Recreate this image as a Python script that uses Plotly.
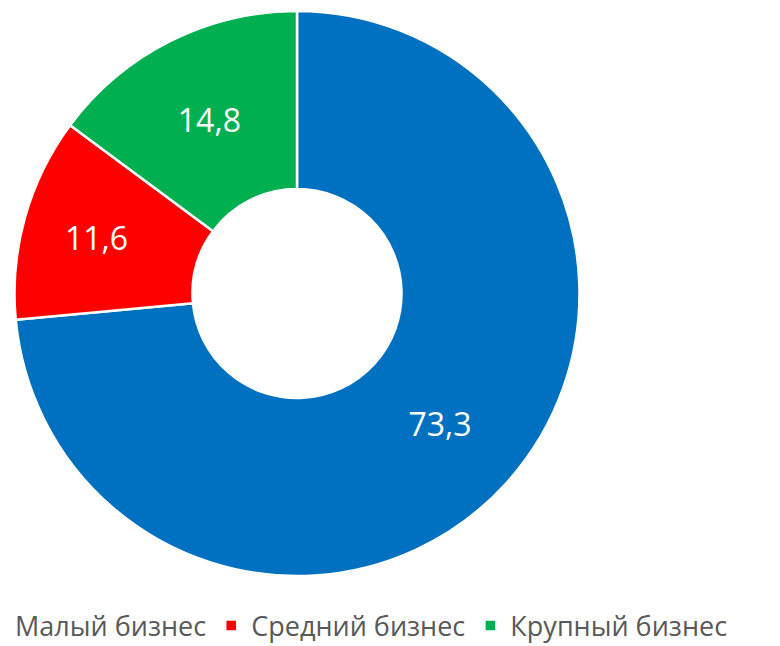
"""Donut chart of business size shares."""

import plotly.graph_objects as go

categories: list[str] = ["Малый бизнес", "Средний бизнес", "Крупный бизнес"]
shares: list[float] = [73.3, 11.6, 14.8]
slice_colors: list[str] = ["#0070C0", "#FF0000", "#00B050"]

FONT = "Open Sans"

# the page body adds an 8px margin, so the figure is 8px smaller than the window
WIDTH = 772
HEIGHT = 638


def build_figure() -> go.Figure:
    """Build the donut figure."""
    figure = go.Figure(
        go.Pie(
            labels=categories,
            values=shares,
            hole=0.37,
            sort=False,
            direction="clockwise",
            rotation=0,
            marker={"colors": slice_colors, "line": {"color": "white", "width": 2.5}},
            texttemplate="%{value:.1f}",
            textposition="inside",
            insidetextorientation="horizontal",
            insidetextfont={"family": FONT, "size": 32, "color": "white"},
            domain={"x": [0.0084, 0.7403], "y": [0.0373, 0.9949]},
        )
    )
    figure.update_layout(
        width=WIDTH,
        height=HEIGHT,
        separators=", ",
        paper_bgcolor="white",
        plot_bgcolor="white",
        margin={"l": 0, "r": 0, "t": 0, "b": 48, "autoexpand": False},
        showlegend=True,
        legend={
            "orientation": "h",
            "x": -0.0427,
            "xanchor": "left",
            "y": -0.0475,
            "yanchor": "middle",
            "font": {"family": FONT, "size": 27, "color": "#595959"},
        },
        font={"family": FONT},
    )
    return figure


fig = build_figure()
fig.write_html("out.html")
